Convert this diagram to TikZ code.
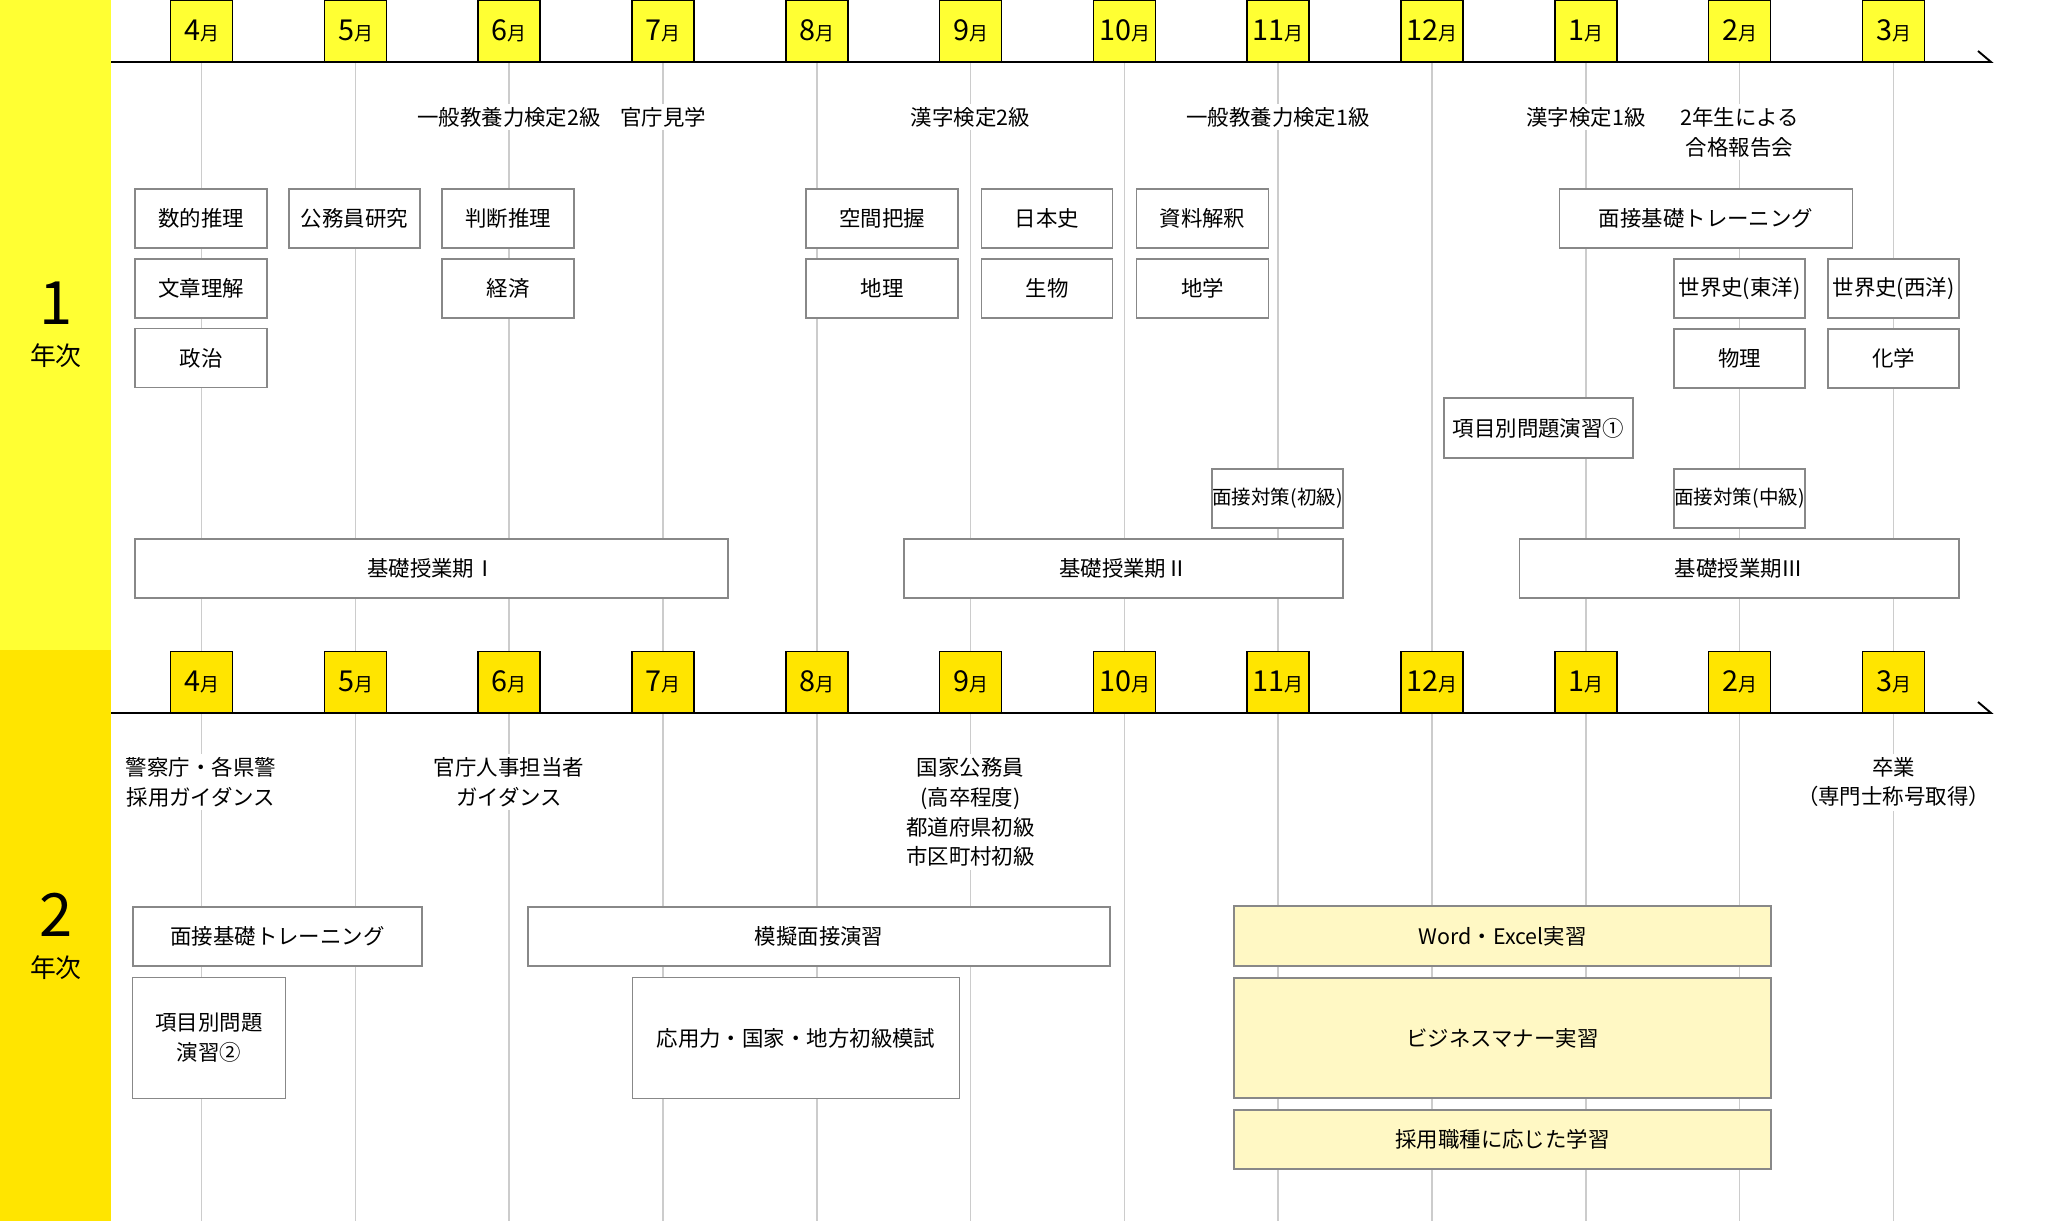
\documentclass[tikz,border=0pt]{standalone}
\usepackage{fontspec}
\setmainfont{Noto Sans CJK JP}
\definecolor{bandA}{HTML}{FFFF33}
\definecolor{bandB}{HTML}{FFE500}
\definecolor{boxgray}{HTML}{888888}
\definecolor{linegray}{HTML}{CCCCCC}
\definecolor{paleyel}{HTML}{FFF8C4}
\newcommand{\evfont}{\fontsize{12.2}{17}\selectfont}
\newcommand{\monthlbl}[1]{{\fontsize{16.4}{18}\selectfont #1}{\fontsize{10.8}{12}\selectfont 月}}
\tikzset{
  month/.style={draw, line width=0.8pt, minimum width=1.24cm, minimum height=1.22cm, inner sep=0pt, anchor=south},
  ev/.style={fill=white, inner sep=2pt, align=center, font=\evfont},
  box/.style={draw=boxgray, line width=0.9pt, fill=white, inner sep=0pt, align=center, font=\evfont},
  pale/.style={box, fill=paleyel},
  monthline/.style={linegray, line width=0.6pt},
  timeline/.style={line width=1.1pt},
}
\begin{document}
\begin{tikzpicture}[x=0.02cm,y=-0.02cm]
    \useasboundingbox (0,0) rectangle (2072,1221);
    % year bands
    \fill[bandA] (0,0) rectangle (111,650);
    \fill[bandB] (0,650) rectangle (111,1221);
    \node (yr1) at (56,303) {\fontsize{34}{36}\selectfont 1};
    \node (yr1t) at (56,356) {\fontsize{14.7}{16}\selectfont 年次};
    \node (yr2) at (56,915) {\fontsize{34}{36}\selectfont 2};
    \node (yr2t) at (56,968) {\fontsize{14.7}{16}\selectfont 年次};
    % month lines
    \draw[monthline] (201.5,62) -- (201.5,1221);
    \draw[monthline] (355.5,62) -- (355.5,1221);
    \draw[monthline] (509,62) -- (509,1221);
    \draw[monthline] (663,62) -- (663,1221);
    \draw[monthline] (817,62) -- (817,1221);
    \draw[monthline] (970.5,62) -- (970.5,1221);
    \draw[monthline] (1124.5,62) -- (1124.5,1221);
    \draw[monthline] (1278,62) -- (1278,1221);
    \draw[monthline] (1432,62) -- (1432,1221);
    \draw[monthline] (1586,62) -- (1586,1221);
    \draw[monthline] (1739.5,62) -- (1739.5,1221);
    \draw[monthline] (1893.5,62) -- (1893.5,1221);
    % 1st year
    \draw[timeline] (111,62) -- (1991,62) -- (1978,51);
        \node[month,fill=bandA] (y1m4) at (201.5,62) {\monthlbl{4}};
        \node[month,fill=bandA] (y1m5) at (355.5,62) {\monthlbl{5}};
        \node[month,fill=bandA] (y1m6) at (509,62) {\monthlbl{6}};
        \node[month,fill=bandA] (y1m7) at (663,62) {\monthlbl{7}};
        \node[month,fill=bandA] (y1m8) at (817,62) {\monthlbl{8}};
        \node[month,fill=bandA] (y1m9) at (970.5,62) {\monthlbl{9}};
        \node[month,fill=bandA] (y1m10) at (1124.5,62) {\monthlbl{10}};
        \node[month,fill=bandA] (y1m11) at (1278,62) {\monthlbl{11}};
        \node[month,fill=bandA] (y1m12) at (1432,62) {\monthlbl{12}};
        \node[month,fill=bandA] (y1m1) at (1586,62) {\monthlbl{1}};
        \node[month,fill=bandA] (y1m2) at (1739.5,62) {\monthlbl{2}};
        \node[month,fill=bandA] (y1m3) at (1893.5,62) {\monthlbl{3}};
    \node[ev] (kyoyo2) at (509,117) {一般教養力検定2級};
    \node[ev] (kengaku) at (663,117) {官庁見学};
    \node[ev] (kanji2) at (970.5,117) {漢字検定2級};
    \node[ev] (kyoyo1) at (1278,117) {一般教養力検定1級};
    \node[ev] (kanji1) at (1586,117) {漢字検定1級};
    \node[ev] (houkoku) at (1739.5,132) {2年生による\\合格報告会};
        \node[box,minimum width=2.64cm,minimum height=1.18cm] (suteki) at (201,218.5) {数的推理};
        \node[box,minimum width=2.64cm,minimum height=1.18cm] (bunsho) at (201,288.5) {文章理解};
        \node[box,minimum width=2.64cm,minimum height=1.18cm] (seiji) at (201,358) {政治};
        \node[box,minimum width=2.62cm,minimum height=1.18cm] (komuin) at (354.5,218.5) {公務員研究};
        \node[box,minimum width=2.64cm,minimum height=1.18cm] (handan) at (508,218.5) {判断推理};
        \node[box,minimum width=2.64cm,minimum height=1.18cm] (keizai) at (508,288.5) {経済};
        \node[box,minimum width=3.04cm,minimum height=1.18cm] (kukan) at (882,218.5) {空間把握};
        \node[box,minimum width=3.04cm,minimum height=1.18cm] (chiri) at (882,288.5) {地理};
        \node[box,minimum width=2.62cm,minimum height=1.18cm] (nihonshi) at (1047,218.5) {日本史};
        \node[box,minimum width=2.62cm,minimum height=1.18cm] (seibutsu) at (1047,288.5) {生物};
        \node[box,minimum width=2.64cm,minimum height=1.18cm] (shiryo) at (1202.5,218.5) {資料解釈};
        \node[box,minimum width=2.64cm,minimum height=1.18cm] (chigaku) at (1202.5,288.5) {地学};
        \node[box,minimum width=5.86cm,minimum height=1.18cm] (mensetsu1) at (1706,218.5) {面接基礎トレーニング};
        \node[box,minimum width=2.63cm,minimum height=1.18cm] (toyo) at (1739.5,288.5) {世界史(東洋)};
        \node[box,minimum width=2.62cm,minimum height=1.18cm] (seiyo) at (1893.5,288.5) {世界史(西洋)};
        \node[box,minimum width=2.63cm,minimum height=1.18cm] (butsuri) at (1739.5,358.5) {物理};
        \node[box,minimum width=2.62cm,minimum height=1.18cm] (kagaku) at (1893.5,358.5) {化学};
        \node[box,minimum width=3.78cm,minimum height=1.2cm] (koumoku1) at (1538.5,428) {項目別問題演習①};
        \node[box,minimum width=2.62cm,minimum height=1.18cm,font=\fontsize{11.1}{14}\selectfont] (shokyu) at (1277.5,498.5) {面接対策(初級)};
        \node[box,minimum width=2.63cm,minimum height=1.18cm,font=\fontsize{11.1}{14}\selectfont] (chukyu) at (1739.5,498.5) {面接対策(中級)};
        \node[box,minimum width=11.86cm,minimum height=1.18cm] (kiso1) at (431.5,568.5) {基礎授業期Ⅰ};
        \node[box,minimum width=8.78cm,minimum height=1.18cm] (kiso2) at (1123.5,568.5) {基礎授業期Ⅱ};
        \node[box,minimum width=8.79cm,minimum height=1.18cm] (kiso3) at (1739,568.5) {基礎授業期Ⅲ};
    % 2nd year
    \draw[timeline] (111,713) -- (1991,713) -- (1978,702);
        \node[month,fill=bandB] (y2m4) at (201.5,713) {\monthlbl{4}};
        \node[month,fill=bandB] (y2m5) at (355.5,713) {\monthlbl{5}};
        \node[month,fill=bandB] (y2m6) at (509,713) {\monthlbl{6}};
        \node[month,fill=bandB] (y2m7) at (663,713) {\monthlbl{7}};
        \node[month,fill=bandB] (y2m8) at (817,713) {\monthlbl{8}};
        \node[month,fill=bandB] (y2m9) at (970.5,713) {\monthlbl{9}};
        \node[month,fill=bandB] (y2m10) at (1124.5,713) {\monthlbl{10}};
        \node[month,fill=bandB] (y2m11) at (1278,713) {\monthlbl{11}};
        \node[month,fill=bandB] (y2m12) at (1432,713) {\monthlbl{12}};
        \node[month,fill=bandB] (y2m1) at (1586,713) {\monthlbl{1}};
        \node[month,fill=bandB] (y2m2) at (1739.5,713) {\monthlbl{2}};
        \node[month,fill=bandB] (y2m3) at (1893.5,713) {\monthlbl{3}};
    \node[ev] (keisatsu) at (201,782) {警察庁・各県警\\採用ガイダンス};
    \node[ev] (jinji) at (509,782) {官庁人事担当者\\ガイダンス};
    \node[ev] (kokka) at (970.5,812) {国家公務員\\(高卒程度)\\都道府県初級\\市区町村初級};
    \node[ev] (sotsugyo) at (1893.5,782) {卒業\\（専門士称号取得）};
        \node[box,minimum width=5.78cm,minimum height=1.18cm] (mensetsu2) at (277.5,936.5) {面接基礎トレーニング};
        \node[box,minimum width=3.06cm,minimum height=2.42cm] (koumoku2) at (209,1038) {項目別問題\\演習②};
        \node[box,minimum width=11.65cm,minimum height=1.18cm] (mogi) at (819,936.5) {模擬面接演習};
        \node[box,minimum width=6.54cm,minimum height=2.42cm] (moshi) at (796,1038) {応用力・国家・地方初級模試};
        \node[pale,minimum width=10.75cm,minimum height=1.2cm] (office) at (1502.5,936) {Word・Excel実習};
        \node[pale,minimum width=10.75cm,minimum height=2.4cm] (manner) at (1502.5,1038) {ビジネスマナー実習};
        \node[pale,minimum width=10.75cm,minimum height=1.18cm] (shokushu) at (1502.5,1139.5) {採用職種に応じた学習};
\end{tikzpicture}
\end{document}
